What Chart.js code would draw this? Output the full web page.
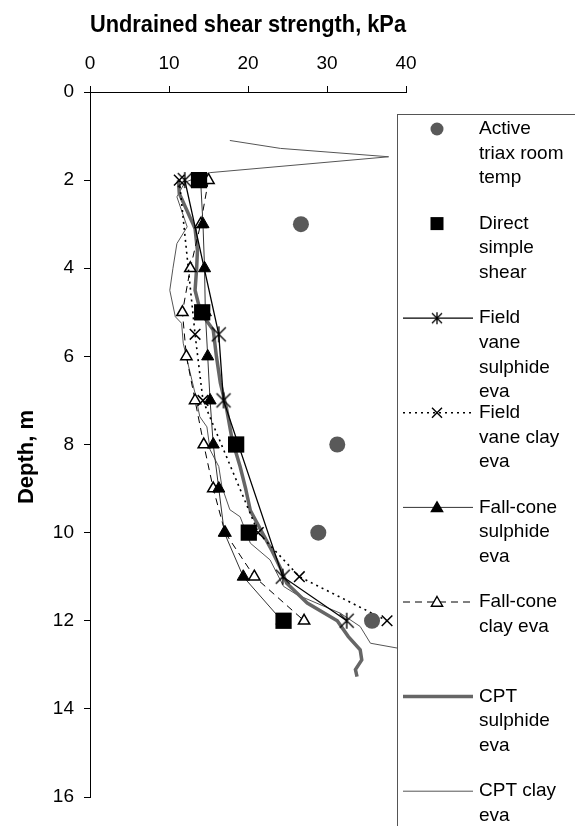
<!DOCTYPE html>
<html>
<head>
<meta charset="utf-8">
<script src="https://cdn.jsdelivr.net/npm/chart.js@4.4.1/dist/chart.umd.min.js"></script>
<style>
  html, body { margin: 0; padding: 0; background: #fff; }
</style>
</head>
<body>
<canvas id="chart" width="575" height="826"></canvas>
<script>
const xTitle = 'Undrained shear strength, kPa';
const yTitle = 'Depth, m';
const xTicks = [0, 10, 20, 30, 40];
const yTicks = [0, 2, 4, 6, 8, 10, 12, 14, 16];

const seriesNames = [
  'Active triax room temp',
  'Direct simple shear',
  'Field vane sulphide eva',
  'Field vane clay eva',
  'Fall-cone sulphide eva',
  'Fall-cone clay eva',
  'CPT sulphide eva',
  'CPT clay eva'
];
// how the legend wraps each name
const legendLines = [
  ['Active', 'triax room', 'temp'],
  ['Direct', 'simple', 'shear'],
  ['Field', 'vane', 'sulphide', 'eva'],
  ['Field', 'vane clay', 'eva'],
  ['Fall-cone', 'sulphide', 'eva'],
  ['Fall-cone', 'clay eva'],
  ['CPT', 'sulphide', 'eva'],
  ['CPT clay', 'eva']
];

const triaxDepth = [3, 8, 10, 12];
const triaxSu = [26.7, 31.3, 28.9, 35.7];

const dssDepth = [2, 5, 8, 10, 12];
const dssSu = [13.8, 14.2, 18.5, 20.1, 24.5];

const fvSulDepth = [2, 5.5, 7, 11, 12];
const fvSulSu = [12.0, 16.3, 16.9, 24.4, 32.5];

const fvClayDepth = [2, 5.5, 7, 10, 11, 12];
const fvClaySu = [11.3, 13.3, 14.3, 21.3, 26.5, 37.6];

const fcSulDepth = [2, 3, 4, 5, 6, 7, 8, 9, 10, 11, 12];
const fcSulSu = [14.0, 14.3, 14.5, 14.6, 14.9, 15.2, 15.6, 16.3, 17.0, 19.4, 24.3];

const fcClayDepth = [2, 3, 4, 5, 6, 7, 8, 9, 10, 11, 12];
const fcClaySu = [15.0, 14.0, 12.7, 11.7, 12.2, 13.3, 14.4, 15.6, 17.1, 20.8, 27.1];

const cptSulDepth = [2.0, 2.3, 2.7, 3.1, 3.6, 4.0, 4.5, 5.0, 5.4, 6.0, 6.6, 7.2, 7.9, 8.5, 9.0, 9.5, 10.0, 10.4, 10.8, 11.15, 11.6, 12.0, 12.36, 12.66, 12.89, 13.11, 13.27];
const cptSulSu = [11.2, 11.3, 12.3, 13.3, 13.6, 13.5, 13.3, 14.0, 15.6, 16.0, 16.5, 17.3, 18.0, 19.0, 19.7, 20.3, 21.8, 23.0, 24.1, 24.9, 27.5, 31.3, 32.7, 34.2, 34.4, 33.6, 33.8];

const cptClayDepth = [1.1, 1.28, 1.47, 1.83, 2.05, 2.38, 3.06, 3.44, 4.0, 4.5, 5.1, 5.25, 5.7, 6.24, 6.84, 7.37, 7.6, 8.12, 8.5, 8.96, 9.48, 9.64, 10.24, 10.62, 11.22, 11.41, 11.83, 12.13, 12.51, 12.62, 12.64];
const cptClaySu = [17.7, 24.1, 37.8, 15.2, 12.0, 11.0, 12.3, 11.0, 10.5, 10.1, 10.8, 11.6, 11.8, 12.5, 13.3, 13.9, 14.8, 15.2, 16.3, 16.7, 17.7, 19.0, 20.3, 22.8, 24.5, 26.2, 31.7, 34.2, 35.5, 38.9, 40.5];

const font = "'Liberation Sans', Arial, sans-serif";

function pts(su, depth) {
  return su.map((v, i) => ({ x: v, y: depth[i] }));
}

function asteriskImage(size, lw) {
  const c = document.createElement('canvas');
  c.width = size; c.height = size;
  const g = c.getContext('2d');
  g.strokeStyle = '#000';
  g.lineWidth = lw;
  const m = size / 2;
  g.beginPath();
  g.moveTo(m, 1); g.lineTo(m, size - 1);
  g.moveTo(2, 2); g.lineTo(size - 2, size - 2);
  g.moveTo(size - 2, 2); g.lineTo(2, size - 2);
  g.stroke();
  return c;
}

const asterisk = asteriskImage(18, 1.4);
const asteriskSmall = asteriskImage(14, 1.3);

const datasets = [
  {
    label: seriesNames[0], data: pts(triaxSu, triaxDepth), showLine: false,
    pointStyle: 'circle', pointRadius: 8, pointBackgroundColor: '#595959', pointBorderColor: '#595959', pointBorderWidth: 0
  },
  {
    label: seriesNames[1], data: pts(dssSu, dssDepth), showLine: false,
    pointStyle: 'rect', pointRadius: 11.5, pointBackgroundColor: '#000', pointBorderColor: '#000', pointBorderWidth: 0
  },
  {
    label: seriesNames[2], data: pts(fvSulSu, fvSulDepth), showLine: true,
    borderColor: '#000', borderWidth: 1.3, pointStyle: asterisk, pointRadius: 9
  },
  {
    label: seriesNames[3], data: pts(fvClaySu, fvClayDepth), showLine: true,
    borderColor: '#000', borderWidth: 1.6, borderDash: [2, 4],
    pointStyle: 'crossRot', pointRadius: 7.5, pointBorderColor: '#000', pointBorderWidth: 1.5
  },
  {
    label: seriesNames[4], data: pts(fcSulSu, fcSulDepth), showLine: true,
    borderColor: '#333', borderWidth: 1,
    pointStyle: 'triangle', pointRadius: 7, pointBackgroundColor: '#000', pointBorderColor: '#000', pointBorderWidth: 1
  },
  {
    label: seriesNames[5], data: pts(fcClaySu, fcClayDepth), showLine: true,
    borderColor: '#000', borderWidth: 1, borderDash: [7, 5],
    pointStyle: 'triangle', pointRadius: 6.5, pointBackgroundColor: '#fff', pointBorderColor: '#000', pointBorderWidth: 1.5
  },
  {
    label: seriesNames[6], data: pts(cptSulSu, cptSulDepth), showLine: true,
    borderColor: '#666', borderWidth: 3.5, pointRadius: 0
  },
  {
    label: seriesNames[7], data: pts(cptClaySu, cptClayDepth), showLine: true,
    borderColor: '#555', borderWidth: 1, pointRadius: 0
  }
];

function drawMarker(ctx, ds, x, y) {
  const st = ds.pointStyle;
  if (!st || ds.pointRadius === 0) return;
  ctx.save();
  ctx.setLineDash([]);
  if (st === asterisk) {
    ctx.drawImage(asteriskSmall, x - 7, y - 7);
  } else if (st === 'circle') {
    ctx.fillStyle = ds.pointBackgroundColor;
    ctx.beginPath(); ctx.arc(x, y, 6.5, 0, Math.PI * 2); ctx.fill();
  } else if (st === 'rect') {
    ctx.fillStyle = ds.pointBackgroundColor;
    ctx.fillRect(x - 6.5, y - 6.5, 13, 13);
  } else if (st === 'crossRot') {
    ctx.strokeStyle = '#000'; ctx.lineWidth = 1.4;
    ctx.beginPath();
    ctx.moveTo(x - 5, y - 5); ctx.lineTo(x + 5, y + 5);
    ctx.moveTo(x + 5, y - 5); ctx.lineTo(x - 5, y + 5);
    ctx.stroke();
  } else if (st === 'triangle') {
    const r = 6.5;
    ctx.beginPath();
    for (let k = 0; k < 3; k++) {
      const a = k * 2 * Math.PI / 3;
      const px = x + Math.sin(a) * r, py = y + 1 - Math.cos(a) * r;
      if (k === 0) ctx.moveTo(px, py); else ctx.lineTo(px, py);
    }
    ctx.closePath();
    ctx.fillStyle = ds.pointBackgroundColor; ctx.fill();
    ctx.strokeStyle = '#000'; ctx.lineWidth = 1.4; ctx.stroke();
  }
  ctx.restore();
}

const boxLegend = {
  id: 'boxLegend',
  afterDraw(chart) {
    const ctx = chart.ctx;
    ctx.save();
    ctx.fillStyle = '#fff';
    ctx.strokeStyle = '#555';
    ctx.lineWidth = 1;
    ctx.fillRect(397.5, 114.5, 200, 720);
    ctx.strokeRect(397.5, 114.5, 200, 720);

    ctx.font = '19px ' + font;
    ctx.textBaseline = 'middle';
    ctx.textAlign = 'left';
    chart.data.datasets.forEach((ds, i) => {
      const y0 = 129 + i * 94.6;
      if (ds.showLine) {
        ctx.save();
        ctx.strokeStyle = ds.borderColor;
        ctx.lineWidth = ds.borderWidth;
        ctx.setLineDash(ds.borderDash || []);
        ctx.beginPath();
        ctx.moveTo(403, y0); ctx.lineTo(473, y0);
        ctx.stroke();
        ctx.restore();
      }
      drawMarker(ctx, ds, 437, y0);
      ctx.fillStyle = '#000';
      legendLines[i].forEach((t, j) => ctx.fillText(t, 479, y0 + j * 24.6));
    });

    // y axis title
    ctx.save();
    ctx.translate(27, 457);
    ctx.rotate(-Math.PI / 2);
    ctx.font = 'bold 22px ' + font;
    ctx.textAlign = 'center';
    ctx.fillText(yTitle, 0, 0);
    ctx.restore();
    ctx.restore();
  }
};

new Chart(document.getElementById('chart').getContext('2d'), {
  type: 'scatter',
  data: { datasets },
  options: {
    responsive: false,
    animation: false,
    layout: { padding: { left: 0, top: 0, right: 169, bottom: 29 } },
    elements: { line: { tension: 0 } },
    plugins: { legend: { display: false }, tooltip: { enabled: false } },
    scales: {
      x: {
        type: 'linear',
        position: 'top',
        min: 0,
        max: 40,
        afterFit: s => { s.height = 92; },
        afterBuildTicks: s => { s.ticks = xTicks.map(v => ({ value: v })); },
        ticks: { color: '#000', padding: 11, font: { family: font, size: 19 } },
        grid: { drawOnChartArea: false, tickLength: 6, color: '#000', lineWidth: 1 },
        border: { color: '#000', width: 1 },
        title: {
          display: true, text: xTitle, color: '#000',
          font: { family: font, size: 24, weight: 'bold' },
          padding: { top: 11, bottom: 0 }
        }
      },
      y: {
        type: 'linear',
        reverse: true,
        min: 0,
        max: 16,
        afterFit: s => { s.width = 90; },
        afterBuildTicks: s => { s.ticks = yTicks.map(v => ({ value: v })); },
        ticks: { color: '#000', padding: 10, font: { family: font, size: 19 } },
        grid: { drawOnChartArea: false, tickLength: 6, color: '#000', lineWidth: 1 },
        border: { color: '#000', width: 1 }
      }
    }
  },
  plugins: [boxLegend]
});
</script>
</body>
</html>
